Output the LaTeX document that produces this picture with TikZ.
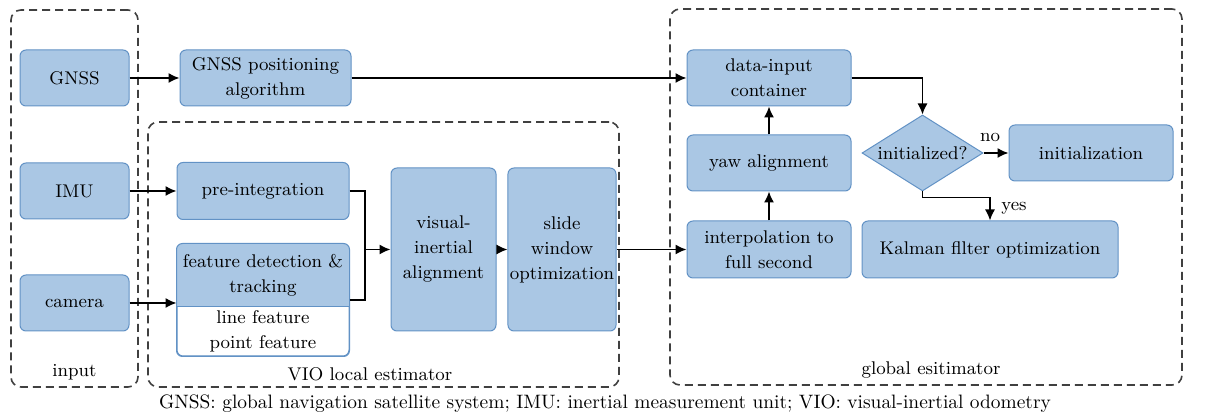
\documentclass[tikz,border=0pt]{standalone}
\usepackage{tikz}
\usetikzlibrary{arrows.meta,shapes.geometric,positioning}
\definecolor{boxfill}{RGB}{170,199,228}
\definecolor{boxline}{RGB}{98,146,197}
\definecolor{groupline}{RGB}{64,64,64}
\tikzset{
    every node/.style={align=center,font=\fontsize{9.2}{12.5}\selectfont,},
    block/.style={draw=boxline,fill=boxfill,rounded corners=3pt,line width=0.5pt,inner sep=1pt,},
    decision/.style={diamond,draw=boxline,fill=boxfill,line width=0.5pt,inner sep=0pt,aspect=1.6,},
    group/.style={draw=groupline,dashed,dash pattern=on 4pt off 2.5pt,line width=0.8pt,rounded corners=5pt,},
    conn/.style={line width=0.75pt,},
    arrow/.style={conn,-{Latex[length=5.5pt,width=5pt]},},
}

\begin{document}
\begin{tikzpicture}[x=0.5pt,y=-0.5pt]
        \useasboundingbox (0,0) rectangle (1211,416);

        % dashed groups
        \node[group,minimum width=63.5pt,minimum height=188.5pt] (input_grp) at (74.5,198.5) {};
        \node[group,minimum width=235.5pt,minimum height=132.5pt] (vio_grp) at (383.5,254.5) {};
        \node[group,minimum width=256pt,minimum height=188pt] (global_grp) at (926,197) {};
        \node (input_lbl) at (74.5,372) {input};
        \node (vio_lbl) at (370,374) {VIO local estimator};
        \node (global_lbl) at (931,370) {global esitimator};

        % inputs
        \node[block,minimum width=54.5pt,minimum height=28pt] (gnss) at (74.5,78) {GNSS};
        \node[block,minimum width=54.5pt,minimum height=28pt] (imu) at (74.5,191) {IMU};
        \node[block,minimum width=54.5pt,minimum height=28pt] (camera) at (74.5,303) {camera};

        \node[block,minimum width=85.5pt,minimum height=28pt] (gnss_pos) at (265.5,78) {GNSS positioning\\algorithm};

        % local estimator
        \node[block,minimum width=86pt,minimum height=28.5pt] (pre_int) at (263,191) {pre-integration};
        \node[block,fill=white,minimum width=86pt,minimum height=56pt] (feat) at (263,300) {};
        \begin{scope}
            \clip (feat.north west) rectangle (feat.east |- 0,307);
            \fill[boxfill,rounded corners=3pt] (feat.north west) rectangle (feat.south east);
        \end{scope}
        \draw[boxline,line width=0.5pt] (feat.west |- 0,307) -- (feat.east |- 0,307);
        \draw[boxline,line width=0.5pt,rounded corners=3pt] (feat.north west) rectangle (feat.south east);
        \node (feat_top) at (263,275.5) {feature detection \&\\tracking};
        \node (feat_bot) at (263,331.5) {line feature\\point feature};

        \node[block,minimum width=52.5pt,minimum height=81.5pt] (vi_align) at (443.5,249.5) {visual-\\inertial\\alignment};
        \node[block,minimum width=52pt,minimum height=81.5pt] (slide_win) at (562,249.5) {slide\\window\\optimization};

        % global estimator
        \node[block,minimum width=82pt,minimum height=28pt] (container) at (769,78) {data-input\\container};
        \node[block,minimum width=82pt,minimum height=28pt] (yaw) at (769,163) {yaw alignment};
        \node[block,minimum width=82pt,minimum height=28.5pt] (interp) at (769,249.5) {interpolation to\\full second};
        \node[decision,minimum width=60.5pt,minimum height=38pt] (init_q) at (922.5,153) {initialized?};
        \node[block,minimum width=82pt,minimum height=28pt] (init) at (1091,153) {initialization};
        \node[block,minimum width=128pt,minimum height=28.5pt] (kalman) at (990,249.5) {Kalman fllter optimization};
        \node (no_lbl) at (990,137) {no};
        \node (yes_lbl) at (1014,208) {yes};

        \coordinate (merge) at (365,249.5);

        \draw[arrow] (gnss) -- (gnss_pos);
        \draw[arrow] (imu) -- (pre_int);
        \draw[arrow] (camera) -- (camera -| feat.west);
        \draw[conn] (pre_int.east) -| (merge);
        \draw[conn] (feat.east) -| (merge);
        \draw[arrow] (merge) -- (vi_align);
        \draw[arrow] (vi_align) -- (slide_win);
        \draw[arrow] (slide_win) -- (interp);

        \draw[arrow] (gnss_pos) -- (container);
        \draw[arrow] (interp) -- (yaw);
        \draw[arrow] (yaw) -- (container);
        \draw[arrow] (container.east) -| (init_q.north);
        \draw[arrow] (init_q) -- (init);
        \draw[arrow] (init_q.south) -- ++(0,6) -| (kalman.north);

        \node[font=\fontsize{9.7}{12}\selectfont] (caption) at (605,404) {GNSS: global navigation satellite system; IMU: inertial measurement unit; VIO: visual-inertial odometry};
    \end{tikzpicture}
\end{document}
